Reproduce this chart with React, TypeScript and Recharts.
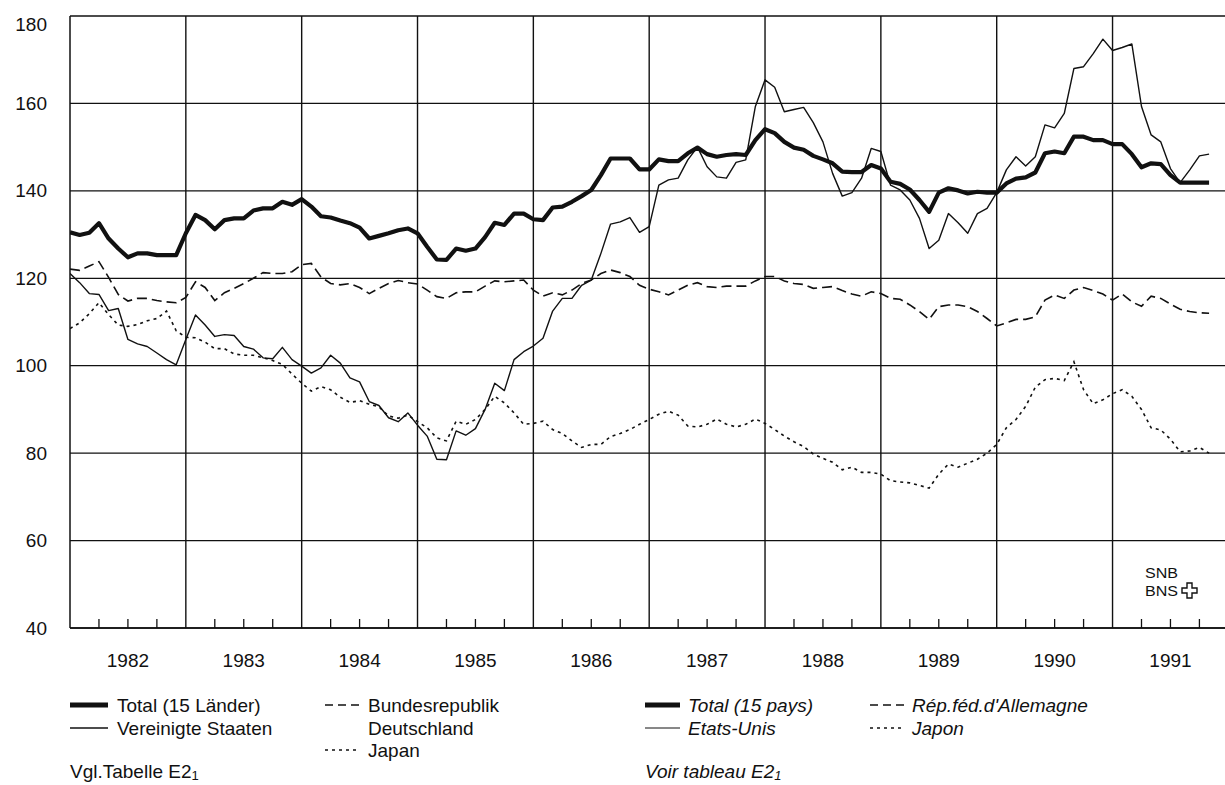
import { LineChart, Line, XAxis, YAxis, CartesianGrid, ReferenceLine, Customized } from 'recharts';

// monthly index values, Jan 1982 .. Nov 1991
const YEARS = ['1982', '1983', '1984', '1985', '1986', '1987', '1988', '1989', '1990', '1991'];
const Y_TICKS = [40, 60, 80, 100, 120, 140, 160, 180];

const TOTAL = [
  130.5, 129.9, 130.4, 132.6, 129.1, 126.8, 124.8, 125.7, 125.7, 125.3, 125.3, 125.3,
  130.3, 134.5, 133.3, 131.2, 133.3, 133.7, 133.7, 135.5, 136.0, 136.0, 137.5, 136.8,
  138.1, 136.4, 134.2, 133.9, 133.2, 132.6, 131.6, 129.1, 129.7, 130.3, 131.0, 131.4,
  130.3, 127.2, 124.3, 124.2, 126.8, 126.3, 126.8, 129.4, 132.7, 132.2, 134.8, 134.8,
  133.5, 133.3, 136.2, 136.4, 137.5, 138.8, 140.2, 143.6, 147.4, 147.4, 147.4, 144.9,
  144.9, 147.2, 146.8, 146.8, 148.6, 149.9, 148.4, 147.8, 148.2, 148.4, 148.2, 151.6,
  154.1, 153.2, 151.2, 149.9, 149.4, 148.0, 147.2, 146.3, 144.4, 144.3, 144.3, 145.9,
  145.1, 142.1, 141.6, 140.3, 137.9, 135.2, 139.6, 140.6, 140.1, 139.4, 139.8, 139.6,
  139.6, 141.7, 142.8, 143.1, 144.2, 148.6, 149.0, 148.6, 152.4, 152.4, 151.6, 151.6,
  150.7, 150.7, 148.4, 145.4, 146.3, 146.1, 143.6, 141.9, 141.9, 141.9, 141.9,
];

const USA = [
  121.1, 119.0, 116.5, 116.3, 112.6, 113.1, 106.0, 105.0, 104.4, 102.9, 101.4, 100.2,
  106.0, 111.6, 109.3, 106.7, 107.1, 106.9, 104.4, 103.8, 101.8, 101.6, 104.2, 101.4,
  99.9, 98.3, 99.5, 102.4, 100.6, 97.2, 96.3, 91.8, 90.9, 88.1, 87.2, 89.2,
  86.4, 83.9, 78.6, 78.5, 85.1, 84.1, 85.6, 90.0, 96.0, 94.3, 101.4, 103.2,
  104.5, 106.3, 112.5, 115.4, 115.4, 118.4, 119.6, 125.7, 132.4, 132.9, 133.9, 130.5,
  131.8, 141.3, 142.5, 142.9, 147.1, 150.0, 145.5, 143.2, 142.9, 146.5, 147.1, 159.3,
  165.4, 163.7, 158.1, 158.6, 159.1, 155.6, 151.2, 144.0, 138.8, 139.6, 142.9, 149.7,
  149.0, 141.3, 140.2, 137.9, 133.7, 126.8, 128.7, 134.8, 132.7, 130.3, 134.8, 136.0,
  139.6, 144.8, 147.8, 145.7, 147.8, 155.1, 154.4, 157.7, 168.0, 168.4, 171.4, 174.7,
  172.1, 172.8, 173.6, 159.3, 152.8, 151.2, 145.1, 141.9, 144.8, 148.0, 148.4,
];

const GERMANY = [
  122.1, 121.8, 122.8, 123.8, 120.2, 116.3, 114.8, 115.4, 115.4, 114.9, 114.6, 114.4,
  115.6, 119.2, 117.9, 114.9, 116.7, 117.7, 118.8, 120.0, 121.3, 121.1, 121.1, 121.5,
  123.1, 123.4, 120.3, 118.8, 118.5, 118.8, 117.9, 116.5, 117.7, 118.8, 119.5, 119.0,
  118.7, 117.3, 115.8, 115.4, 116.7, 116.9, 116.9, 118.2, 119.4, 119.2, 119.4, 119.6,
  117.3, 115.9, 116.7, 116.2, 117.3, 118.8, 119.6, 121.1, 121.9, 121.3, 120.4, 118.4,
  117.5, 116.9, 116.2, 117.3, 118.4, 119.0, 118.1, 117.9, 118.2, 118.2, 118.2, 119.4,
  120.4, 120.4, 119.4, 118.8, 118.6, 117.7, 117.9, 118.1, 117.2, 116.4, 115.9, 116.9,
  116.5, 115.4, 115.2, 113.9, 112.4, 110.6, 113.5, 113.9, 113.9, 113.5, 112.4, 110.8,
  109.1, 109.8, 110.6, 110.6, 111.2, 115.0, 116.2, 115.4, 117.3, 117.9, 117.2, 116.4,
  115.0, 116.4, 114.6, 113.6, 115.9, 115.4, 114.1, 112.9, 112.4, 112.1, 112.0,
];

const JAPAN = [
  108.5, 109.8, 111.9, 114.4, 111.7, 109.3, 109.0, 109.4, 110.3, 110.8, 112.5, 108.0,
  106.5, 106.4, 105.4, 103.9, 103.9, 102.7, 102.4, 102.4, 101.8, 101.2, 100.3, 98.1,
  96.0, 94.2, 95.2, 94.5, 92.8, 91.6, 92.0, 91.2, 90.6, 88.5, 88.0, 88.7,
  87.2, 85.8, 83.5, 82.8, 87.3, 86.6, 87.7, 90.0, 93.0, 91.5, 89.2, 86.6,
  86.8, 87.3, 85.4, 84.5, 82.8, 81.3, 82.0, 82.0, 83.8, 84.5, 85.4, 86.6,
  87.7, 88.9, 89.6, 88.7, 86.2, 86.0, 86.6, 87.8, 86.6, 86.0, 86.6, 87.8,
  86.8, 85.4, 83.9, 82.6, 81.5, 79.8, 78.8, 77.9, 76.2, 76.8, 75.6, 75.6,
  75.2, 73.7, 73.4, 73.2, 72.6, 72.0, 75.2, 77.5, 76.8, 77.7, 78.6, 80.0,
  82.0, 85.8, 87.7, 90.7, 95.1, 96.8, 97.1, 96.6, 100.9, 94.5, 91.3, 92.2,
  93.6, 94.5, 93.0, 90.0, 85.8, 85.3, 83.2, 80.3, 80.5, 81.3, 80.0,
];

const data = TOTAL.map((v, i) => ({
  m: i,
  total: v,
  usa: USA[i],
  germany: GERMANY[i],
  japan: JAPAN[i],
}));

const yearBounds = YEARS.slice(1).map((_, i) => (i + 1) * 12);
const quarterTicks = YEARS.flatMap((_, i) => [i * 12 + 3, i * 12 + 6, i * 12 + 9]);

const FONT = '"Liberation Sans", Arial, sans-serif';
const INK = '#111';
const PLOT_BOTTOM = 628;

function YTick(props: any) {
  const { y, payload } = props;
  const dy = payload.value === 180 ? 8 : 0;
  return (
    <text x={47} y={y + dy} textAnchor="end" dominantBaseline="central" fontSize={19} fontFamily={FONT} fill={INK}>
      {payload.value}
    </text>
  );
}

function XTick(props: any) {
  const { x, payload } = props;
  const v = payload.value;
  return (
    <g>
      <line x1={x} x2={x} y1={PLOT_BOTTOM} y2={PLOT_BOTTOM - 9} stroke={INK} strokeWidth={1.3} />
      {v % 12 === 6 && (
        <text x={x} y={660} textAnchor="middle" dominantBaseline="central" fontSize={19} fontFamily={FONT} fill={INK}>
          {YEARS[(v - 6) / 12]}
        </text>
      )}
    </g>
  );
}

function Overlay() {
  const r1 = 705;
  const r2 = 728;
  const r3 = 750;
  const note = 771;
  const txt = { fontSize: 19, fontFamily: FONT, fill: INK, dominantBaseline: 'central' as const };
  return (
    <g>
      {/* SNB logo */}
      <text x={1145} y={572} fontSize={15} fontFamily={FONT} fill={INK} dominantBaseline="central" textLength={33} lengthAdjust="spacingAndGlyphs">SNB</text>
      <text x={1145} y={590} fontSize={15} fontFamily={FONT} fill={INK} dominantBaseline="central" textLength={33} lengthAdjust="spacingAndGlyphs">BNS</text>
      <path
        d="M1187,583 h5 v5 h5 v5 h-5 v5 h-5 v-5 h-5 v-5 h5 z"
        fill="none"
        stroke={INK}
        strokeWidth={1.4}
      />

      {/* German legend */}
      <line x1={70} x2={108} y1={r1} y2={r1} stroke={INK} strokeWidth={5} />
      <text x={117} y={r1} {...txt}>Total (15 Länder)</text>
      <line x1={70} x2={108} y1={r2} y2={r2} stroke={INK} strokeWidth={1.5} />
      <text x={117} y={r2} {...txt}>Vereinigte Staaten</text>
      <line x1={325} x2={360} y1={r1} y2={r1} stroke={INK} strokeWidth={1.5} strokeDasharray="8 5" />
      <text x={368} y={r1} {...txt}>Bundesrepublik</text>
      <text x={368} y={r2} {...txt}>Deutschland</text>
      <line x1={325} x2={360} y1={r3} y2={r3} stroke={INK} strokeWidth={1.5} strokeDasharray="3 4" />
      <text x={368} y={r3} {...txt}>Japan</text>
      <text x={70} y={note} {...txt}>
        Vgl.Tabelle E2<tspan fontSize={13} dy={4}>1</tspan>
      </text>

      {/* French legend */}
      <line x1={645} x2={680} y1={r1} y2={r1} stroke={INK} strokeWidth={5} />
      <text x={688} y={r1} {...txt} fontStyle="italic">Total (15 pays)</text>
      <line x1={645} x2={680} y1={r2} y2={r2} stroke={INK} strokeWidth={1} />
      <text x={688} y={r2} {...txt} fontStyle="italic">Etats-Unis</text>
      <line x1={870} x2={905} y1={r1} y2={r1} stroke={INK} strokeWidth={1.5} strokeDasharray="8 5" />
      <text x={912} y={r1} {...txt} fontStyle="italic">Rép.féd.d'Allemagne</text>
      <line x1={870} x2={905} y1={r2} y2={r2} stroke={INK} strokeWidth={1.5} strokeDasharray="3 4" />
      <text x={912} y={r2} {...txt} fontStyle="italic">Japon</text>
      <text x={645} y={note} {...txt} fontStyle="italic">
        Voir tableau E2<tspan fontSize={13} dy={4}>1</tspan>
      </text>
    </g>
  );
}

export default function App() {
  return (
    <div style={{ position: 'absolute', left: 0, top: 0, width: 1225, height: 785, overflow: 'hidden', background: '#fff' }}>
      <LineChart width={1225} height={785} data={data} margin={{ top: 16, right: 0, bottom: 117, left: 0 }}>
        <CartesianGrid vertical={false} stroke={INK} strokeWidth={1.3} />
        <XAxis
          dataKey="m"
          type="number"
          domain={[0, 119.65]}
          allowDataOverflow
          ticks={quarterTicks}
          interval={0}
          tick={<XTick />}
          tickLine={false}
          axisLine={{ stroke: INK, strokeWidth: 1.5 }}
          height={40}
        />
        <YAxis
          domain={[40, 180]}
          ticks={Y_TICKS}
          interval={0}
          tick={<YTick />}
          tickLine={false}
          axisLine={{ stroke: INK, strokeWidth: 1.5 }}
          width={70}
        />
        {yearBounds.map((b) => (
          <ReferenceLine key={b} x={b} stroke={INK} strokeWidth={1.4} />
        ))}
        <Line type="linear" dataKey="japan" stroke={INK} strokeWidth={1.6} strokeDasharray="3 4" dot={false} isAnimationActive={false} />
        <Line type="linear" dataKey="germany" stroke={INK} strokeWidth={1.6} strokeDasharray="10 5" dot={false} isAnimationActive={false} />
        <Line type="linear" dataKey="usa" stroke={INK} strokeWidth={1.4} dot={false} strokeLinejoin="round" isAnimationActive={false} />
        <Line type="linear" dataKey="total" stroke={INK} strokeWidth={4.2} dot={false} strokeLinejoin="round" isAnimationActive={false} />
        <Customized component={<Overlay />} />
      </LineChart>
    </div>
  );
}
